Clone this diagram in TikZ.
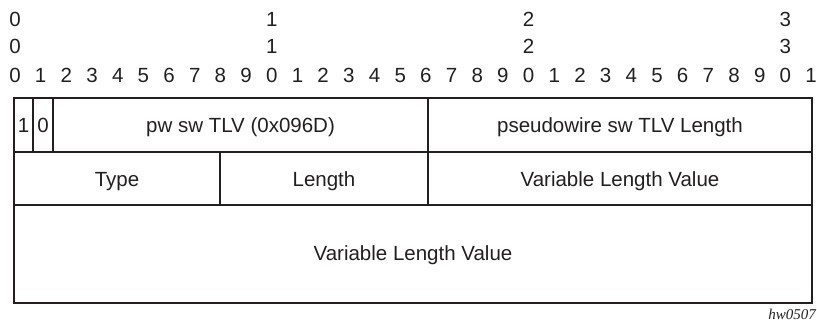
\documentclass[tikz,border=0pt]{standalone}
\usepackage{fontspec}
\setmainfont{Liberation Sans}
\newfontfamily\tagfont{Liberation Serif}
\definecolor{ink}{HTML}{231F20}
\begin{document}
\begin{tikzpicture}[x=1pt,y=-1pt,
    bitnum/.style={font=\fontsize{20.5}{20.5}\selectfont, text=ink, inner sep=0pt, anchor=base},
    fieldtxt/.style={font=\fontsize{20.5}{20.5}\selectfont, text=ink, inner sep=0pt, anchor=base},
    frame/.style={draw=ink, line width=2.6pt},
    thin/.style={draw=ink, line width=2pt}]
    \useasboundingbox (0,0) rectangle (817,322);
    % bit ruler
    \foreach \i in {0,...,31} {
        \pgfmathtruncatemacro\d{mod(\i,10)}
        \node[bitnum] (u\i) at (15+\i*25.68,82) {\d};
    }
    \foreach \i/\t in {0/0,10/1,20/2,30/3} {
        \node[bitnum] (h\i) at (15+\i*25.68,26) {\t};
        \node[bitnum] (t\i) at (15+\i*25.68,53) {\t};
    }
    % frame corners
    \coordinate (nw) at (14,98);
    \coordinate (se) at (812,303);
    \coordinate (r1w) at (14,152);
    \coordinate (r1e) at (812,152);
    \coordinate (r2w) at (14,205);
    \coordinate (r2e) at (812,205);
    \draw[frame] (nw) rectangle (se);
    \draw[frame] (r1w) -- (r1e);
    \draw[frame] (r2w) -- (r2e);
    % first word
    \draw[thin] (33,98) -- (33,152);
    \draw[thin] (53,98) -- (53,152);
    \draw[frame] (428,98) -- (428,152);
    \node[fieldtxt] (ubit) at (23.5,132.5) {1};
    \node[fieldtxt] (fbit) at (43,132.5) {0};
    \node[fieldtxt] (tlvtype) at (240.5,132.5) {pw sw TLV (0x096D)};
    \node[fieldtxt] (tlvlen) at (620,132.5) {pseudowire sw TLV Length};
    % second word
    \draw[frame] (220,152) -- (220,205);
    \draw[frame] (428,152) -- (428,205);
    \node[fieldtxt] (subtype) at (117,186) {Type};
    \node[fieldtxt] (sublen) at (324,186) {Length};
    \node[fieldtxt] (subval) at (620,186) {Variable Length Value};
    % remaining words
    \node[fieldtxt] (moreval) at (413,260) {Variable Length Value};
    % figure tag
    \node[font=\tagfont\itshape\fontsize{15}{15}\selectfont, text=ink, inner sep=0pt, anchor=base east] (figtag) at (816,319) {hw0507};
\end{tikzpicture}
\end{document}
